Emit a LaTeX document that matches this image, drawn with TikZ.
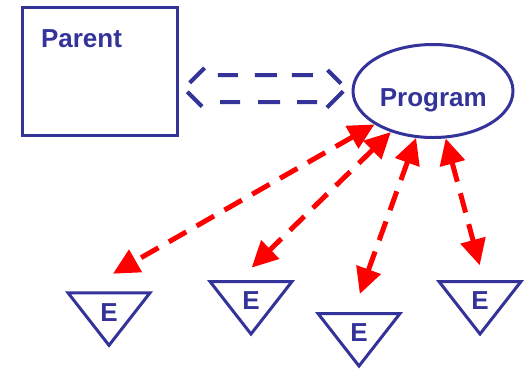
\documentclass[tikz,border=0pt]{standalone}
\usepackage{fontspec}
\setmainfont{Liberation Sans}
\usepackage{xcolor}
\usetikzlibrary{arrows.meta,positioning,shapes.geometric}
\definecolor{navy}{HTML}{333399}

\begin{document}
\begin{tikzpicture}[x=1pt, y=-1pt,
    box/.style={rectangle, draw=navy, line width=3pt, minimum width=154.8pt, minimum height=128.4pt, inner sep=0pt},
    prog/.style={ellipse, draw=navy, line width=3pt, minimum width=160pt, minimum height=93pt, inner sep=0pt},
    entity/.style={isosceles triangle, isosceles triangle stretches, shape border rotate=270, draw=navy, line width=3pt, minimum width=82pt, minimum height=52.5pt, inner sep=0pt, outer sep=0pt, anchor=apex},
    txt/.style={font=\fontsize{26}{30}\selectfont\bfseries, text=navy},
    bridge/.style={navy, line width=4pt, dash pattern=on 0pt off 8pt on 21pt off 24pt on 20pt off 17pt on 22pt off 15pt on 21pt off 26pt on 19pt off 11pt on 23pt off 21pt on 20pt off 17pt on 22pt off 18pt on 20pt off 29.5pt on 21pt off 4.5pt},
    link/.style={red, line width=5pt, dash pattern=on 20pt off 12pt, {Triangle[length=26pt,width=25pt]}-{Triangle[length=26pt,width=25pt]}}
]
    \useasboundingbox (0,0) rectangle (529,368);

    % Parent and program
    \node[box] (parent) at (100,71.6) {};
    \node[txt, anchor=base west] (parentlbl) at (37.5,47.3) {Parent};
    \node[prog] (program) at (433,91) {};
    \node[txt, anchor=base] (proglbl) at (433.3,106.7) {Program};

    % Dashed two-way block arrow between them
    \draw[bridge] (184,88.5) -- (207,65.5) -- (207,75) -- (323,75) -- (323,65.5) -- (346,88.5)
        -- (323,111.5) -- (323,102) -- (207,102) -- (207,111.5) -- cycle;

    % Entities
    \node[entity] (e1) at (109,345.3) {};
    \node[entity] (e2) at (251,334) {};
    \node[entity] (e3) at (359,366) {};
    \node[entity] (e4) at (480,334) {};
    \node[txt] (e1lbl) at (109,313) {E};
    \node[txt] (e2lbl) at (251,301) {E};
    \node[txt] (e3lbl) at (359,333) {E};
    \node[txt] (e4lbl) at (480,301) {E};

    % Red two-way arrows
    \coordinate (t1) at (113,273.7);
    \coordinate (t2) at (251.7,267.6);
    \coordinate (t3) at (359.8,294);
    \coordinate (t4) at (479.7,265.3);
    \draw[link] (program) -- (t1);
    \draw[link] (program) -- (t2);
    \draw[link] (program) -- (t3);
    \draw[link] (program) -- (t4);
\end{tikzpicture}
\end{document}
